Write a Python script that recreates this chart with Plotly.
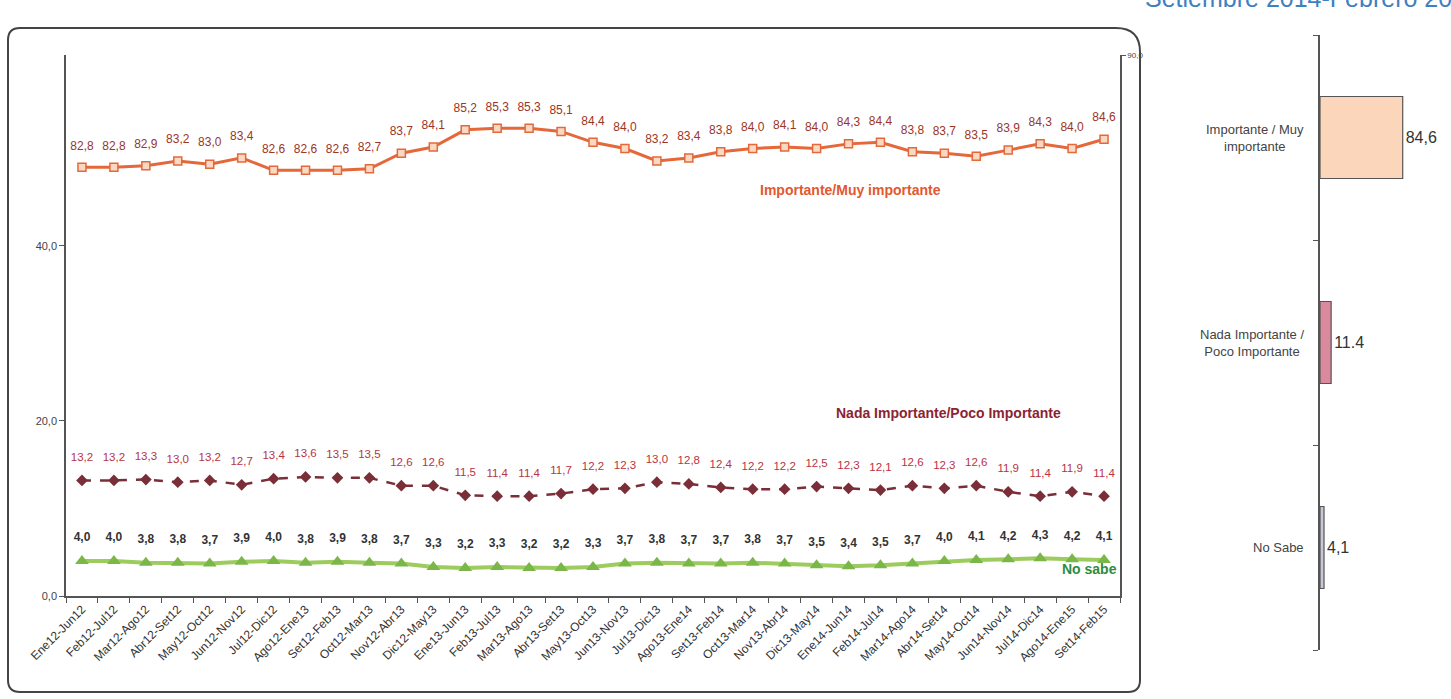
import plotly.graph_objects as go

W, H = 1451, 699


def fx(p):
    return p / W


def fy(p):
    return 1 - p / H


periods = ["Ene12-Jun12", "Feb12-Jul12", "Mar12-Ago12", "Abr12-Set12", "May12-Oct12",
           "Jun12-Nov12", "Jul12-Dic12", "Ago12-Ene13", "Set12-Feb13", "Oct12-Mar13",
           "Nov12-Abr13", "Dic12-May13", "Ene13-Jun13", "Feb13-Jul13", "Mar13-Ago13",
           "Abr13-Set13", "May13-Oct13", "Jun13-Nov13", "Jul13-Dic13", "Ago13-Ene14",
           "Set13-Feb14", "Oct13-Mar14", "Nov13-Abr14", "Dic13-May14", "Ene14-Jun14",
           "Feb14-Jul14", "Mar14-Ago14", "Abr14-Set14", "May14-Oct14", "Jun14-Nov14",
           "Jul14-Dic14", "Ago14-Ene15", "Set14-Feb15"]

importante = [82.8, 82.8, 82.9, 83.2, 83.0, 83.4, 82.6, 82.6, 82.6, 82.7, 83.7, 84.1,
              85.2, 85.3, 85.3, 85.1, 84.4, 84.0, 83.2, 83.4, 83.8, 84.0, 84.1, 84.0,
              84.3, 84.4, 83.8, 83.7, 83.5, 83.9, 84.3, 84.0, 84.6]

nada_importante = [13.2, 13.2, 13.3, 13.0, 13.2, 12.7, 13.4, 13.6, 13.5, 13.5, 12.6, 12.6,
                   11.5, 11.4, 11.4, 11.7, 12.2, 12.3, 13.0, 12.8, 12.4, 12.2, 12.2, 12.5,
                   12.3, 12.1, 12.6, 12.3, 12.6, 11.9, 11.4, 11.9, 11.4]

no_sabe = [4.0, 4.0, 3.8, 3.8, 3.7, 3.9, 4.0, 3.8, 3.9, 3.8, 3.7, 3.3,
           3.2, 3.3, 3.2, 3.2, 3.3, 3.7, 3.8, 3.7, 3.7, 3.8, 3.7, 3.5,
           3.4, 3.5, 3.7, 4.0, 4.1, 4.2, 4.3, 4.2, 4.1]

bar_categories = ["Importante / Muy<br>importante", "Nada Importante /<br>Poco Importante", "No Sabe"]
bar_values = [84.6, 11.4, 4.1]
bar_labels = ["84,6", "11.4", "4,1"]

left_ticks = [0, 20, 40]
left_ticktext = ["0,0", "20,0", "40,0"]


def fmt(v):
    return f"{v:.1f}".replace(".", ",")


FONT = "Arial, Liberation Sans, sans-serif"
CLEAR = "rgba(0,0,0,0)"

fig = go.Figure()

# Importante / Muy importante (secondary axis)
fig.add_trace(go.Scatter(
    x=periods, y=importante, yaxis="y2", mode="lines+markers",
    line=dict(color="#E4683A", width=3),
    marker=dict(symbol="square", size=8, color="#FAD9C4", line=dict(color="#E4683A", width=1.5)),
    cliponaxis=False, showlegend=False, hoverinfo="skip"))
fig.add_trace(go.Scatter(
    x=periods, y=importante, yaxis="y2", mode="markers+text",
    marker=dict(size=22, color=CLEAR),
    text=[fmt(v) for v in importante], textposition="top center",
    textfont=dict(family=FONT, size=12, color="#9B3526"),
    cliponaxis=False, showlegend=False, hoverinfo="skip"))

# Nada importante / Poco importante
fig.add_trace(go.Scatter(
    x=periods, y=nada_importante, mode="lines+markers",
    line=dict(color="#7A2E38", width=2.5, dash="dash"),
    marker=dict(symbol="diamond", size=9, color="#7A2E38"),
    cliponaxis=False, showlegend=False, hoverinfo="skip"))
fig.add_trace(go.Scatter(
    x=periods, y=nada_importante, mode="markers+text",
    marker=dict(size=25, color=CLEAR),
    text=[fmt(v) for v in nada_importante], textposition="top center",
    textfont=dict(family=FONT, size=11.5, color="#B8333F"),
    cliponaxis=False, showlegend=False, hoverinfo="skip"))

# No sabe
fig.add_trace(go.Scatter(
    x=periods, y=no_sabe, mode="lines+markers",
    line=dict(color="#9CCB5E", width=4),
    marker=dict(symbol="triangle-up", size=12, color="#7AB648"),
    cliponaxis=False, showlegend=False, hoverinfo="skip"))
fig.add_trace(go.Scatter(
    x=periods, y=no_sabe, mode="markers+text",
    marker=dict(size=25, color=CLEAR),
    text=["<b>" + fmt(v) + "</b>" for v in no_sabe], textposition="top center",
    textfont=dict(family=FONT, size=12, color="#333333"),
    cliponaxis=False, showlegend=False, hoverinfo="skip"))

# Right-hand bar chart (Setiembre 2014 - Febrero 2015)
fig.add_trace(go.Bar(
    x=bar_values, y=[0, 1, 2], orientation="h", xaxis="x2", yaxis="y3", width=0.4,
    marker=dict(color=["#FCD6BA", "#D98A9E", "#CBC6D6"], line=dict(color="#555555", width=1.2)),
    text=bar_labels, textposition="outside",
    textfont=dict(family=FONT, size=16, color="#333333"),
    cliponaxis=False, showlegend=False, hoverinfo="skip"))

annotations = []
for i, cat in enumerate(bar_categories):
    annotations.append(dict(x=fx(1306), y=i, xref="paper", yref="y3", text=cat,
                            xanchor="right", showarrow=False, align="center",
                            font=dict(family=FONT, size=13, color="#444444")))

annotations += [
    dict(x=fx(850), y=fy(180), xref="paper", yref="paper", xanchor="center",
         text="<b>Importante/Muy importante</b>",
         showarrow=False, font=dict(family=FONT, size=14, color="#E2582F")),
    dict(x=fx(948), y=fy(413), xref="paper", yref="paper", xanchor="center",
         text="<b>Nada Importante/Poco Importante</b>",
         showarrow=False, font=dict(family=FONT, size=14, color="#8B2332")),
    dict(x=fx(1089), y=fy(579), xref="paper", yref="paper", xanchor="center",
         text="<b>No sabe</b>",
         showarrow=False, font=dict(family=FONT, size=14, color="#2E8B3E")),
    dict(x=fx(1143), y=fy(-2), xref="paper", yref="paper", xanchor="left", yanchor="middle",
         text="Setiembre 2014-Febrero 2015",
         showarrow=False, font=dict(family=FONT, size=25, color="#3F80C0")),
]

# rounded border around the left panel
x0, y0, x1, y1 = 8, 28, 1140, 692
rt, r = 24, 12
path = (f"M {fx(x0 + r)},{fy(y0)} L {fx(x1 - rt)},{fy(y0)} Q {fx(x1)},{fy(y0)} {fx(x1)},{fy(y0 + rt)} "
        f"L {fx(x1)},{fy(y1 - r)} Q {fx(x1)},{fy(y1)} {fx(x1 - r)},{fy(y1)} "
        f"L {fx(x0 + r)},{fy(y1)} Q {fx(x0)},{fy(y1)} {fx(x0)},{fy(y1 - r)} "
        f"L {fx(x0)},{fy(y0 + r)} Q {fx(x0)},{fy(y0)} {fx(x0 + r)},{fy(y0)} Z")

fig.update_layout(
    width=W, height=H, margin=dict(l=0, r=0, t=0, b=0, autoexpand=False),
    paper_bgcolor="white", plot_bgcolor="white",
    font=dict(family=FONT, color="#333333"),
    xaxis=dict(domain=[fx(66), fx(1120)], type="category", range=[-0.5, 32.5], anchor="y",
               tickangle=-45, tickfont=dict(size=12, color="#333333"), showline=True,
               linecolor="#555555", linewidth=1.5, ticks="outside", ticklen=5, tickcolor="#555555",
               tickson="boundaries", showgrid=False, zeroline=False, automargin=False),
    yaxis=dict(domain=[fy(596), fy(55)], range=[0, 61.8], tickvals=left_ticks, ticktext=left_ticktext,
               tickfont=dict(size=11, color="#444444"), showline=True, linecolor="#555555",
               linewidth=1.5, ticks="outside", ticklen=5, tickcolor="#555555",
               showgrid=False, zeroline=False, anchor="x", automargin=False),
    yaxis2=dict(overlaying="y", side="right", anchor="x", range=[55.3, 90], tickvals=[90],
                ticktext=["90,0"], tickfont=dict(size=8, color="#444444"), showline=True,
                linecolor="#555555", linewidth=1.5, ticks="outside", ticklen=4, tickcolor="#555555",
                showgrid=False, zeroline=False, automargin=False),
    xaxis2=dict(domain=[fx(1320), 1.0], anchor="y3", range=[0, 134], visible=False, automargin=False),
    yaxis3=dict(domain=[fy(650), fy(35)], anchor="x2", range=[2.5, -0.5],
                tickvals=[-0.5, 0.5, 1.5, 2.5], showticklabels=False, ticks="outside", ticklen=5,
                tickcolor="#555555", showline=True, linecolor="#555555", linewidth=1.5,
                showgrid=False, zeroline=False, automargin=False),
    annotations=annotations,
    shapes=[dict(type="path", path=path, xref="paper", yref="paper",
                 line=dict(color="#444444", width=2), layer="above")],
)

fig.write_html("out.html", config={"displayModeBar": False},
               post_script="document.body.style.margin='0';document.body.style.overflow='hidden';")
